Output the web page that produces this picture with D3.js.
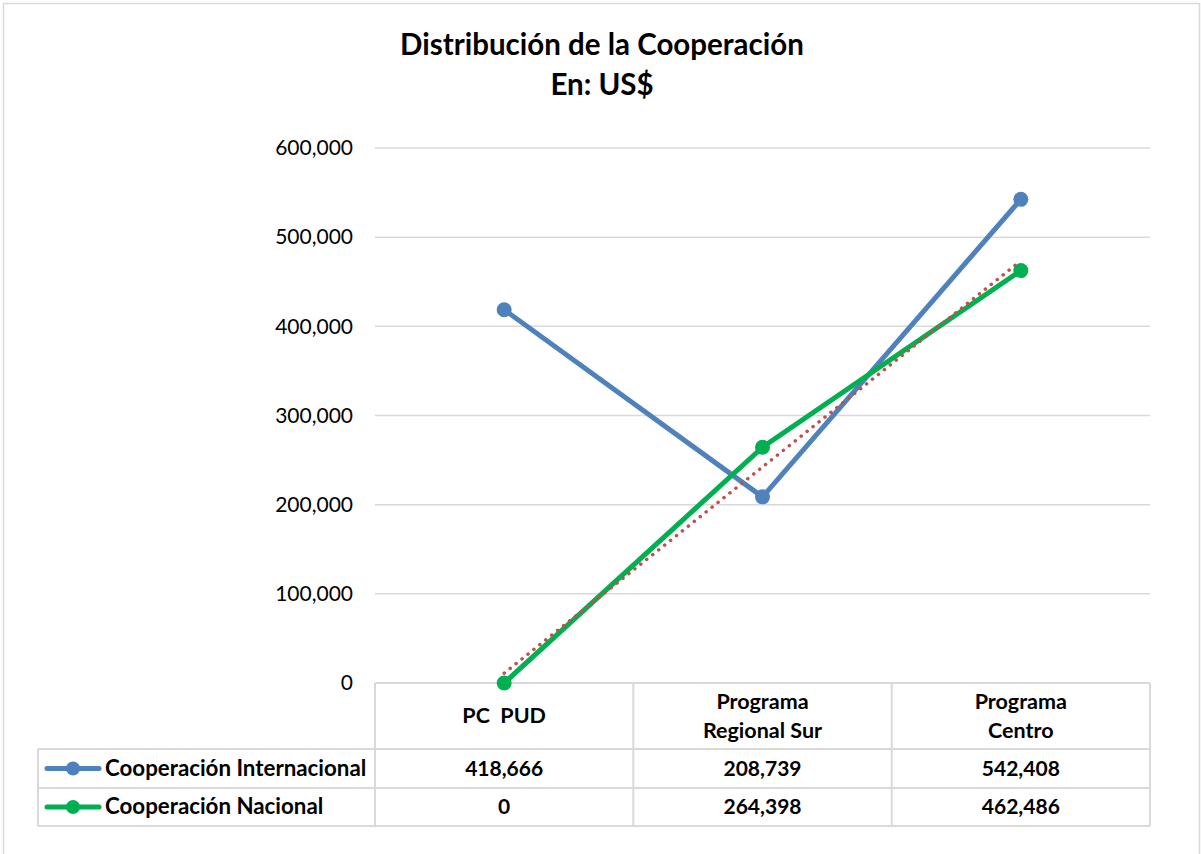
<!DOCTYPE html>
<html>
<head>
<meta charset="utf-8">
<script src="https://cdn.jsdelivr.net/npm/d3@7"></script>
<style>
  body { margin: 0; background: #fff; }
  text { font-family: Lato, "Open Sans", sans-serif; fill: #000; white-space: pre; }
</style>
</head>
<body>
<div id="chart"></div>
<script>
// data
var categories = [["PC  PUD"], ["Programa", "Regional Sur"], ["Programa", "Centro"]];
var seriesNames = ["Cooperación Internacional", "Cooperación Nacional"];
var internacional = [418666, 208739, 542408];
var nacional = [0, 264398, 462486];
// linear trendline of Cooperación Nacional (first and last category)
var trendValues = [11052, 473538];
var yTicks = [0, 100000, 200000, 300000, 400000, 500000, 600000];

var colors = ["#4f81bd", "#00b050"];
var W = 1201, H = 854;

var svg = d3.select("#chart")
  .append("svg")
    .attr("width", W)
    .attr("height", H);

// outer chart border
svg.append("rect")
  .attr("x", 3.5).attr("y", 3.5)
  .attr("width", W - 5).attr("height", H + 10)
  .attr("fill", "none")
  .attr("stroke", "#d9d9d9")
  .attr("stroke-width", 1.5);

// title
svg.append("text")
  .attr("x", 602).attr("y", 55)
  .attr("text-anchor", "middle")
  .style("font-size", "29.5px").style("font-weight", "bold")
  .text("Distribución de la Cooperación");
svg.append("text")
  .attr("x", 602).attr("y", 95)
  .attr("text-anchor", "middle")
  .style("font-size", "29.5px").style("font-weight", "bold")
  .text("En: US$");

var plotLeft = 375, plotRight = 1150, plotTop = 148, plotBottom = 683;

var x = d3.scaleBand()
  .domain(d3.range(categories.length))
  .range([plotLeft, plotRight]);

var y = d3.scaleLinear()
  .domain([0, 600000])
  .range([plotBottom, plotTop]);

// gridlines
svg.append("g")
  .selectAll("line")
  .data(yTicks)
  .enter()
  .append("line")
    .attr("x1", plotLeft).attr("x2", plotRight)
    .attr("y1", d => y(d)).attr("y2", d => y(d))
    .attr("stroke", "#d9d9d9")
    .attr("stroke-width", 1.5);

// y axis labels
var yAxis = svg.append("g")
  .attr("transform", "translate(" + (plotLeft - 22) + ",0)")
  .call(d3.axisLeft(y).tickValues(yTicks).tickSize(0).tickPadding(0)
    .tickFormat(d3.format(",")));
yAxis.select(".domain").remove();
yAxis.selectAll("text")
  .style("font-size", "21px")
  .style("font-family", "Lato, 'Open Sans', sans-serif")
  .attr("fill", "#000");

// data table
var rowLines = [683, 749, 788, 826];
var tableLeft = 38;
var grid = svg.append("g")
  .attr("stroke", "#d9d9d9")
  .attr("stroke-width", 2);
// horizontal lines
grid.append("line").attr("x1", plotLeft).attr("x2", plotRight).attr("y1", rowLines[0]).attr("y2", rowLines[0]);
[1, 2, 3].forEach(function (i) {
  grid.append("line").attr("x1", tableLeft).attr("x2", plotRight)
    .attr("y1", rowLines[i]).attr("y2", rowLines[i]);
});
// vertical lines
grid.append("line").attr("x1", tableLeft).attr("x2", tableLeft).attr("y1", rowLines[1]).attr("y2", rowLines[3]);
d3.range(categories.length + 1).forEach(function (i) {
  var xx = i < categories.length ? x(i) : plotRight;
  grid.append("line").attr("x1", xx).attr("x2", xx).attr("y1", rowLines[0]).attr("y2", rowLines[3]);
});

// category header labels
categories.forEach(function (lines, i) {
  var cx = x(i) + x.bandwidth() / 2;
  var t = svg.append("text")
    .attr("text-anchor", "middle")
    .style("font-size", "21.5px").style("font-weight", "bold")
    .attr("x", cx);
  if (lines.length == 1) {
    t.attr("y", 723).text(lines[0]);
  } else {
    t.append("tspan").attr("x", cx).attr("y", 709).text(lines[0]);
    t.append("tspan").attr("x", cx).attr("y", 738).text(lines[1]);
  }
});

// table values + legend keys
var fmt = d3.format(",");
[internacional, nacional].forEach(function (vals, r) {
  var cy = (rowLines[r + 1] + rowLines[r + 2]) / 2;
  vals.forEach(function (v, i) {
    svg.append("text")
      .attr("x", x(i) + x.bandwidth() / 2)
      .attr("y", cy + 7)
      .attr("text-anchor", "middle")
      .style("font-size", "21px").style("font-weight", "bold")
      .text(fmt(v));
  });
  svg.append("line")
    .attr("x1", 47).attr("x2", 99).attr("y1", cy).attr("y2", cy)
    .attr("stroke", colors[r]).attr("stroke-width", 5)
    .attr("stroke-linecap", "round");
  svg.append("circle")
    .attr("cx", 73).attr("cy", cy).attr("r", 7)
    .attr("fill", colors[r]);
  svg.append("text")
    .attr("x", 105).attr("y", cy + 7)
    .style("font-size", "22.3px").style("font-weight", "bold")
    .text(seriesNames[r]);
});

var line = d3.line()
  .x((d, i) => x(i) + x.bandwidth() / 2)
  .y(d => y(d));

// lines
[internacional, nacional].forEach(function (vals, r) {
  svg.append("path")
    .datum(vals)
    .attr("d", line)
    .attr("fill", "none")
    .attr("stroke", colors[r])
    .attr("stroke-width", 5)
    .attr("stroke-linejoin", "round");
});

// trendline (dotted)
svg.append("line")
  .attr("x1", x(0) + x.bandwidth() / 2).attr("y1", y(trendValues[0]))
  .attr("x2", x(2) + x.bandwidth() / 2).attr("y2", y(trendValues[1]))
  .attr("stroke", "#c0504d")
  .attr("stroke-width", 3.5)
  .attr("stroke-dasharray", "0.1,7.5")
  .attr("stroke-linecap", "round");

// markers
[internacional, nacional].forEach(function (vals, r) {
  svg.append("g")
    .selectAll("circle")
    .data(vals)
    .enter()
    .append("circle")
      .attr("cx", (d, i) => x(i) + x.bandwidth() / 2)
      .attr("cy", d => y(d))
      .attr("r", 7.5)
      .attr("fill", colors[r]);
});
</script>
</body>
</html>
